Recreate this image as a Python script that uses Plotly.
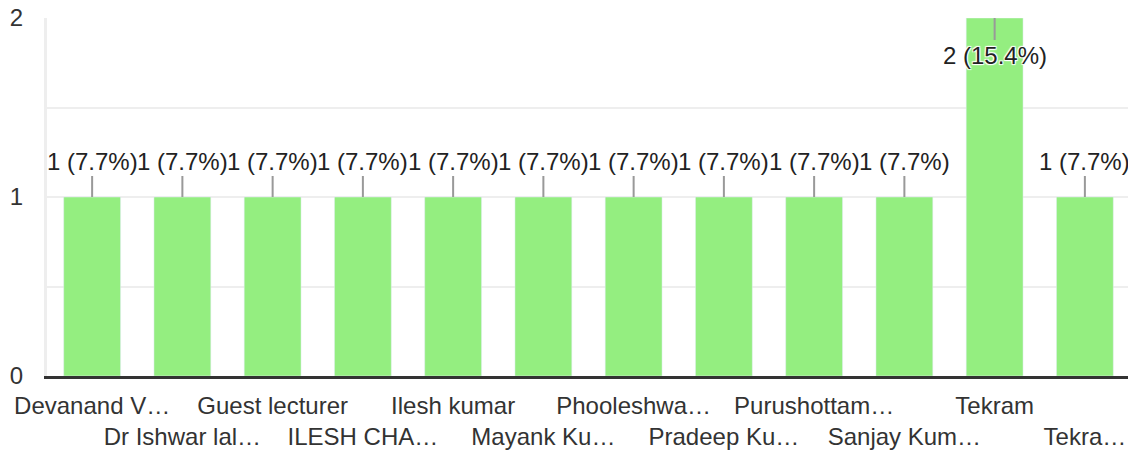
import plotly.graph_objects as go

# responses per name (truncated labels as shown in the form summary)
names = ["Devanand V…", "Dr Ishwar lal…", "Guest lecturer", "ILESH CHA…", "Ilesh kumar",
         "Mayank Ku…", "Phooleshwa…", "Pradeep Ku…", "Purushottam…", "Sanjay Kum…",
         "Tekram", "Tekra…"]
counts = [1, 1, 1, 1, 1, 1, 1, 1, 1, 1, 2, 1]

total = sum(counts)
pos = list(range(len(names)))
labels = [f"{c} ({c / total * 100:.1f}%)" for c in counts]
ymax = max(counts)

font = "Arial, Liberation Sans, sans-serif"
bar_color = "#94ee80"

fig = go.Figure()
fig.add_trace(go.Bar(x=pos, y=counts, marker_color=bar_color, width=0.63,
                     hoverinfo="skip", showlegend=False))
fig.add_trace(go.Scatter(x=[], y=[], xaxis="x2", showlegend=False))

halo = "white 1px 1px 1px, white -1px -1px 1px, white 1px -1px 1px, white -1px 1px 1px"
for p, c, t in zip(pos, counts, labels):
    top = c == ymax
    fig.add_annotation(x=p, y=c, text=t, showarrow=True, arrowhead=0,
                       arrowcolor="#999999", arrowwidth=2, ax=0,
                       ay=37 if top else -36, standoff=0,
                       font=dict(family=font, size=24, color="#222222",
                                 shadow=halo if top else "none"))

# page body has an 8px default margin, so the figure is sized to fit the window
fig.update_layout(
    width=1128, height=442,
    margin=dict(l=39, r=6, t=10, b=74),
    plot_bgcolor="white", paper_bgcolor="white",
    font=dict(family=font, size=24, color="#333333"),
    bargap=0.37,
    xaxis=dict(range=[-0.5, len(names) - 0.5], tickvals=pos[0::2], ticktext=names[0::2],
               showgrid=False, showline=True, linecolor="#333333", linewidth=3,
               ticks="", zeroline=False, ticklabelstandoff=6, automargin=False),
    xaxis2=dict(overlaying="x", matches="x", anchor="y", side="bottom",
                tickvals=pos[1::2], ticktext=names[1::2], showgrid=False,
                showline=False, ticks="", zeroline=False, ticklabelstandoff=44,
                automargin=False),
    yaxis=dict(range=[0, ymax], dtick=1, showgrid=True, gridcolor="#eeeeee", gridwidth=2,
               minor=dict(dtick=0.5, showgrid=True, gridcolor="#eeeeee", gridwidth=2),
               showline=True, linecolor="#eeeeee", linewidth=3, mirror=True,
               zeroline=False, ticks="", ticklabelstandoff=16, automargin=False,
               ticklabeloverflow="allow"),
)

fig.write_html("out.html")
